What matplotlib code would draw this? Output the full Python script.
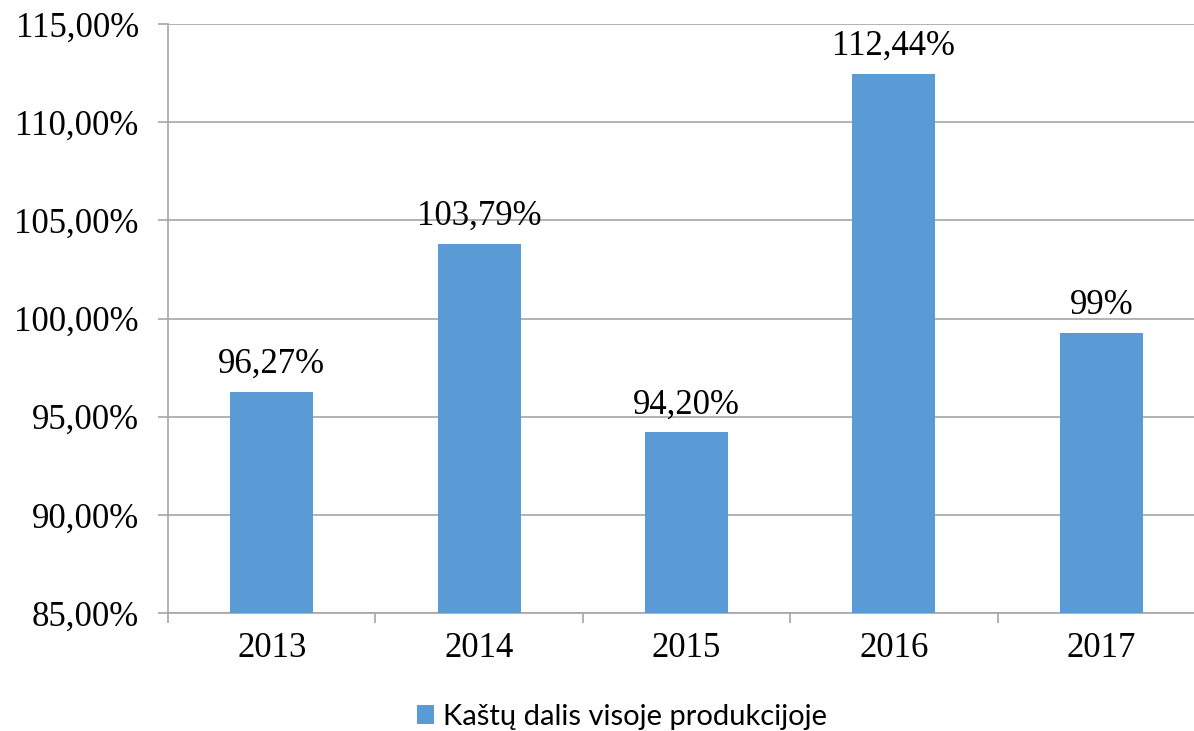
import matplotlib.pyplot as plt
from matplotlib.ticker import FixedLocator

years = ["2013", "2014", "2015", "2016", "2017"]
values = [96.27, 103.79, 94.20, 112.44, 99.26]
value_labels = ["96,27%", "103,79%", "94,20%", "112,44%", "99%"]
y_ticks = [85, 90, 95, 100, 105, 110, 115]
y_tick_labels = ["85,00%", "90,00%", "95,00%", "100,00%", "105,00%", "110,00%", "115,00%"]
series_name = "Kaštų dalis visoje produkcijoje"

BAR = "#5b9bd5"
GRID = "#a6a6a6"
SERIF = "Liberation Serif"
FS = 25

fig = plt.figure(figsize=(11.94, 7.31), dpi=100)
ax = fig.add_axes([168 / 1194, 1 - 613 / 731, 1037 / 1194, 589 / 731])

x = list(range(len(years)))
bars = ax.bar(x, values, width=0.4, color=BAR, label=series_name, zorder=3)
for xi, v, lab in zip(x, values, value_labels):
    ax.text(xi, v + 0.97, lab, ha="center", va="baseline", fontsize=FS,
            family=SERIF, color="black")

ax.set_xlim(-0.5, len(years) - 0.5)
ax.set_ylim(85, 115)
ax.set_yticks(y_ticks)
ax.set_yticklabels(y_tick_labels, family=SERIF, fontsize=FS)
ax.set_xticks(x)
ax.set_xticklabels(years, family=SERIF, fontsize=FS)
ax.xaxis.set_minor_locator(FixedLocator([i - 0.5 for i in range(len(years) + 1)]))
ax.tick_params(axis="x", which="major", length=0, pad=14)
ax.tick_params(axis="x", which="minor", length=7, color=GRID, width=1.2)
ax.tick_params(axis="y", length=7, color=GRID, width=1.2, pad=14)

ax.grid(axis="y", color=GRID, linewidth=1.2, zorder=0)
for side in ["top", "right"]:
    ax.spines[side].set_visible(False)
for side in ["left", "bottom"]:
    ax.spines[side].set_color(GRID)
    ax.spines[side].set_linewidth(1.2)

fig.legend(handles=[bars], labels=[series_name], loc="center",
           bbox_to_anchor=(622 / 1194, 1 - 717 / 731), frameon=False,
           prop={"family": "Lato", "size": 21}, handlelength=0.6,
           handleheight=0.6, handletextpad=0.3)

fig.savefig("out.png", dpi=100)
